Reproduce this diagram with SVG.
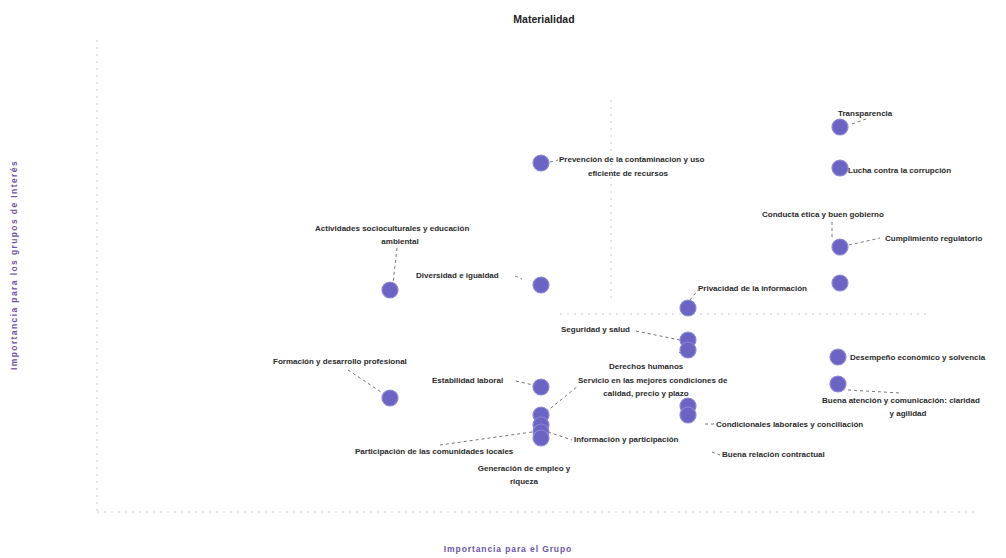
<svg xmlns="http://www.w3.org/2000/svg" width="1006" height="558" viewBox="0 0 1006 558">
<style>
.lbl{font-family:"Liberation Sans",Arial,sans-serif;font-size:8px;font-weight:bold;fill:#2a2a2a}
.mid{text-anchor:middle}
.dot{fill:#6c64c2;stroke:#8f88d6;stroke-width:1.2}
.lead{stroke:#666;stroke-width:0.9;fill:none;stroke-dasharray:3 3}
.axis{stroke:#ccc;stroke-width:1;fill:none;stroke-dasharray:2 5}
.ttl{font-family:"Liberation Sans",Arial,sans-serif;font-size:10.5px;font-weight:bold;fill:#222}
.ax{font-family:"Liberation Sans",Arial,sans-serif;font-size:8.5px;font-weight:bold;fill:#6b55a8}
</style>
<rect width="1006" height="558" fill="#fff"/>
<g id="axes">
<line class="axis" x1="97" y1="40" x2="97" y2="512"/>
<line class="axis" x1="97" y1="512" x2="975" y2="512"/>
<line class="axis" x1="611" y1="100" x2="611" y2="300"/>
<line class="axis" x1="560" y1="314" x2="930" y2="314"/>
</g>
<text class="ttl mid" x="544" y="23">Materialidad</text>
<text class="ax mid" x="508" y="552" style="letter-spacing:0.9px">Importancia para el Grupo</text>
<text class="ax mid" transform="translate(17,265) rotate(-90)" style="letter-spacing:1.4px">Importancia para los grupos de Interés</text>
<g id="connectors">
<line class="lead" x1="550" y1="162" x2="558" y2="160"/>
<line class="lead" x1="852" y1="124" x2="866" y2="119"/>
<line class="lead" x1="832" y1="222" x2="832" y2="240"/>
<line class="lead" x1="849" y1="245" x2="880" y2="238"/>
<line class="lead" x1="397" y1="248" x2="393" y2="283"/>
<line class="lead" x1="515" y1="276" x2="522" y2="279"/>
<line class="lead" x1="690" y1="300" x2="698" y2="290"/>
<line class="lead" x1="636" y1="331" x2="680" y2="340"/>
<line class="lead" x1="679" y1="352" x2="686" y2="357"/>
<line class="lead" x1="546" y1="412" x2="578" y2="386"/>
<line class="lead" x1="348" y1="370" x2="384" y2="394"/>
<line class="lead" x1="516" y1="381" x2="533" y2="385"/>
<line class="lead" x1="848" y1="390" x2="900" y2="393"/>
<line class="lead" x1="705" y1="424" x2="714" y2="424"/>
<line class="lead" x1="548" y1="432" x2="572" y2="440"/>
<line class="lead" x1="532" y1="432" x2="440" y2="445"/>
<line class="lead" x1="712" y1="452" x2="720" y2="455"/>
</g>
<g id="n-prevencion"><circle class="dot" cx="541" cy="163" r="8"/><text class="lbl" x="559" y="162">Prevención de la contaminacion y uso</text><text class="lbl mid" x="628" y="176">eficiente de recursos</text></g>
<g id="n-transparencia"><circle class="dot" cx="840" cy="127" r="8"/><text class="lbl" x="838" y="116">Transparencia</text></g>
<g id="n-lucha"><circle class="dot" cx="840" cy="168" r="8"/><text class="lbl" x="848" y="173">Lucha contra la corrupción</text></g>
<g id="n-conducta"><circle class="dot" cx="840" cy="247" r="8"/><text class="lbl" x="762" y="217">Conducta ética y buen gobierno</text></g>
<g id="n-cumplimiento"><circle class="dot" cx="840" cy="283" r="8"/><text class="lbl" x="885" y="241">Cumplimiento regulatorio</text></g>
<g id="n-actividades"><circle class="dot" cx="390" cy="290" r="8"/><text class="lbl" x="315" y="231">Actividades socioculturales y educación</text><text class="lbl mid" x="400" y="244">ambiental</text></g>
<g id="n-diversidad"><circle class="dot" cx="541" cy="285" r="8"/><text class="lbl" x="416" y="278">Diversidad e igualdad</text></g>
<g id="n-privacidad"><circle class="dot" cx="688" cy="308" r="8"/><text class="lbl" x="698" y="291">Privacidad de la información</text></g>
<g id="n-seguridad"><circle class="dot" cx="688" cy="340" r="8"/><text class="lbl" x="561" y="332">Seguridad y salud</text></g>
<g id="n-derechos"><circle class="dot" cx="688" cy="350" r="8"/><text class="lbl" x="609" y="369">Derechos humanos</text></g>
<g id="n-servicio"><circle class="dot" cx="541" cy="415" r="8"/><text class="lbl" x="578" y="383">Servicio en las mejores condiciones de</text><text class="lbl mid" x="646" y="396">calidad, precio y plazo</text></g>
<g id="n-formacion"><circle class="dot" cx="390" cy="398" r="8"/><text class="lbl" x="273" y="364">Formación y desarrollo profesional</text></g>
<g id="n-estabilidad"><circle class="dot" cx="541" cy="387" r="8"/><text class="lbl" x="432" y="383">Estabilidad laboral</text></g>
<g id="n-desempeno"><circle class="dot" cx="838" cy="357" r="8"/><text class="lbl" x="850" y="360">Desempeño económico y solvencia</text></g>
<g id="n-atencion"><circle class="dot" cx="838" cy="384" r="8"/><text class="lbl" x="822" y="403">Buena atención y comunicación: claridad</text><text class="lbl mid" x="908" y="416">y agilidad</text></g>
<g id="n-condicionales"><circle class="dot" cx="688" cy="406" r="8"/><text class="lbl" x="716" y="427">Condicionales laborales y conciliación</text></g>
<g id="n-relacion"><circle class="dot" cx="688" cy="415" r="8"/><text class="lbl" x="722" y="457">Buena relación contractual</text></g>
<g id="n-informacion"><circle class="dot" cx="541" cy="425" r="8"/><text class="lbl" x="574" y="442">Información y participación</text></g>
<g id="n-participacion"><circle class="dot" cx="541" cy="432" r="8"/><text class="lbl" x="355" y="454">Participación de las comunidades locales</text></g>
<g id="n-generacion"><circle class="dot" cx="541" cy="438" r="8"/><text class="lbl mid" x="524" y="471">Generación de empleo y</text><text class="lbl mid" x="524" y="484">riqueza</text></g>
</svg>
